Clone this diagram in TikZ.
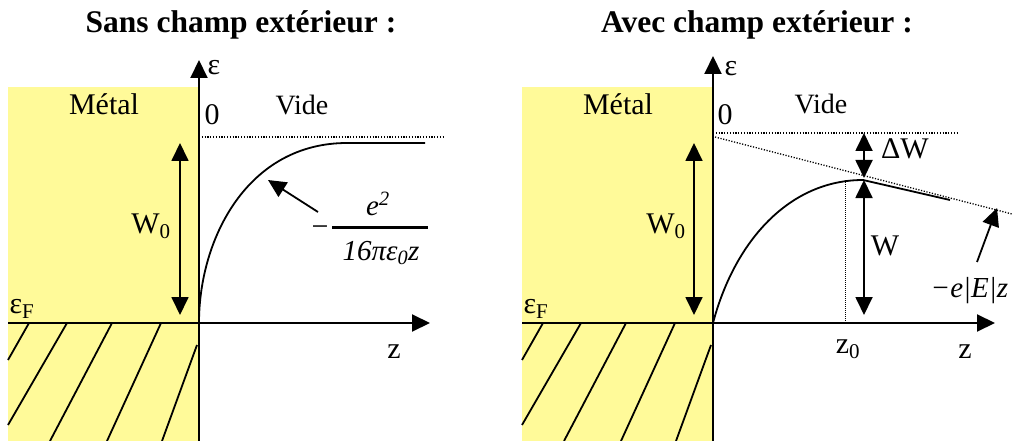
\documentclass[tikz,border=0pt]{standalone}
\usepackage{fontspec}
\setmainfont{Liberation Serif}
\usetikzlibrary{arrows.meta}

\begin{document}
\begin{tikzpicture}[
    x=1pt, y=-1pt,              % 1 unit = 1 pixel of the figure, y downwards
    >={Triangle[length=18pt,width=17pt]},
    line width=1.8pt,
    metal/.style={fill=yellow!40, draw=none},
    lab/.style={font=\fontsize{30}{32}\selectfont, inner sep=0pt, anchor=base},
    smalllab/.style={lab, font=\fontsize{28}{30}\selectfont},
    itlab/.style={lab, font=\fontsize{29}{31}\selectfont\itshape},
    titlelab/.style={font=\fontsize{31.5}{34}\selectfont\bfseries, inner sep=0pt, anchor=base},
    axis/.style={->, line width=2pt},
    gap/.style={<->, line width=1.8pt},
    level/.style={line width=1.3pt, dash pattern=on 1.2pt off 1.6pt},
    thinlevel/.style={line width=0.6pt, dash pattern=on 0.8pt off 1.2pt},
    hatch/.style={line width=1.8pt},
]
\useasboundingbox (0,0) rectangle (1012,441);

% -------------------------------------------------
% Left panel: no external field
% -------------------------------------------------
\fill[metal] (8,87) rectangle (199,441);

\draw[hatch] (29,323) -- (8,360);
\draw[hatch] (67,323) -- (8,425);
\draw[hatch] (112,323) -- (50,441);
\draw[hatch] (161,323) -- (107,441);
\draw[hatch] (197,345) -- (162,441);

\coordinate (Lo)    at (199,323);
\coordinate (Lbot)  at (199,441);
\coordinate (Ltop)  at (199,60);
\coordinate (Lleft) at (8,323);
\coordinate (Lend)  at (430,323);
\draw[axis] (Lbot) -- (Ltop);
\draw[axis] (Lleft) -- (Lend);

\coordinate (Lvac)    at (199,137);
\coordinate (Lvacend) at (445,137);
\draw[level] (Lvac) -- (Lvacend);

% image potential
\coordinate (Lflat) at (347,143);
\coordinate (Lfar)  at (425,143);
\draw (Lo) .. controls (199,238) and (248,143) .. (Lflat) -- (Lfar);

\coordinate (LWtop) at (180,143);
\coordinate (LWbot) at (180,315);
\draw[gap] (LWbot) -- (LWtop);

\node[titlelab] (Ltitle) at (241,33) {Sans champ extérieur :};
\node[lab] (Lmetal) at (104,115) {Métal};
\node[smalllab] (Lvide) at (302,115) {Vide};
\node[lab] (Lzero)  at (212,125) {0};
\node[lab] (Leps)   at (214,75)  {ε};
\node[lab] (LW0)    at (151,233) {W\textsubscript{0}};
\node[lab] (LeF)    at (22,313)  {ε\textsubscript{F}};
\node[lab] (Lz)     at (394,358) {z};

% formula with its pointer
\node[lab]   (Lminus) at (320,236) {−};
\node[itlab] (Lnum)   at (378,215) {e\textsuperscript{2}};
\node[itlab] (Lden)   at (381,260) {16πε\textsubscript{0}z};
\coordinate (Lbarl) at (332,227);
\coordinate (Lbarr) at (428,227);
\draw[line width=3pt] (Lbarl) -- (Lbarr);

\coordinate (Lptr)  at (318,212);
\coordinate (Lptip) at (268,180);
\draw[->] (Lptr) -- (Lptip);

% -------------------------------------------------
% Right panel: with external field
% -------------------------------------------------
\fill[metal] (522,87) rectangle (713,441);

\draw[hatch] (543,323) -- (522,360);
\draw[hatch] (581,323) -- (522,425);
\draw[hatch] (626,323) -- (564,441);
\draw[hatch] (675,323) -- (621,441);
\draw[hatch] (711,345) -- (676,441);

\coordinate (Ro)    at (713,323);
\coordinate (Rbot)  at (713,441);
\coordinate (Rtop)  at (713,56);
\coordinate (Rleft) at (522,323);
\coordinate (Rend)  at (995,323);
\draw[axis] (Rbot) -- (Rtop);
\draw[axis] (Rleft) -- (Rend);

\coordinate (Rvac)    at (713,133);
\coordinate (Rvacend) at (957,133);
\draw[level] (Rvac) -- (Rvacend);

% field line -e|E|z
\coordinate (Rfield)    at (715,137);
\coordinate (Rfieldend) at (1012,214);
\draw[level] (Rfield) -- (Rfieldend);

% lowered barrier
\coordinate (Rmax) at (863,180);
\coordinate (Rtail) at (950,200);
\draw (Ro) .. controls (735,240) and (790,180) .. (Rmax) -- (Rtail);

\coordinate (Rz0top) at (845,180);
\coordinate (Rz0bot) at (845,323);
\draw[thinlevel] (Rz0top) -- (Rz0bot);

\coordinate (RdWtop) at (864,133);
\coordinate (RdWbot) at (864,178);
\draw[gap] (RdWtop) -- (RdWbot);

\coordinate (RWtop) at (864,180);
\coordinate (RWbot) at (864,315);
\draw[gap] (RWtop) -- (RWbot);

\coordinate (RW0top) at (694,143);
\coordinate (RW0bot) at (694,315);
\draw[gap] (RW0bot) -- (RW0top);

\node[titlelab] (Rtitle) at (757,33) {Avec champ extérieur :};
\node[lab] (Rmetal) at (618,115) {Métal};
\node[smalllab] (Rvide) at (821,114) {Vide};
\node[lab] (Rzero)  at (725,125) {0};
\node[lab] (Reps)   at (731,76)  {ε};
\node[lab] (RW0)    at (666,233) {W\textsubscript{0}};
\node[lab] (ReF)    at (536,313) {ε\textsubscript{F}};
\node[lab] (RdW)    at (905,158) {ΔW};
\node[lab] (RW)     at (885,255) {W};
\node[lab] (Rz0)    at (848,353) {z\textsubscript{0}};
\node[lab] (Rz)     at (965,358) {z};
\node[itlab, anchor=base east] (Rfieldlab) at (1009,297) {−e|E|z};

\coordinate (Rptr)  at (977,262);
\coordinate (Rptip) at (997,208);
\draw[->] (Rptr) -- (Rptip);

\end{tikzpicture}
\end{document}
